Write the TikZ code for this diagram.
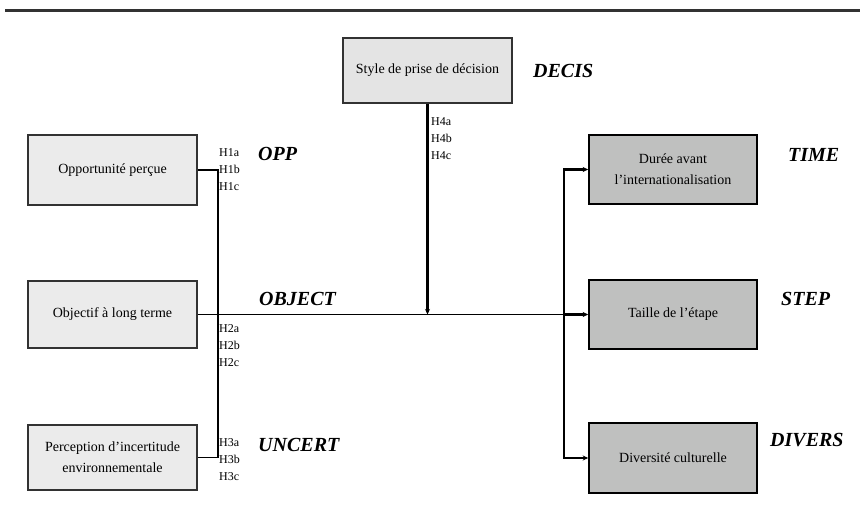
\documentclass[tikz,border=0pt]{standalone}
\usepackage{fontspec}
\setmainfont{Liberation Serif}
\usepackage{tikz}
\usetikzlibrary{arrows.meta}
\definecolor{lightbox}{RGB}{235,235,235}
\definecolor{topbox}{RGB}{228,228,228}
\definecolor{darkbox}{RGB}{191,192,191}
\definecolor{rim}{RGB}{50,50,50}
\tikzstyle{factor} = [draw=rim,line width=1.6pt,fill=lightbox,minimum width=169pt,align=center,inner sep=2pt,font=\fontsize{14}{21}\selectfont]
\tikzstyle{outcome} = [factor,draw=black,fill=darkbox,minimum width=168pt]
\tikzstyle{link} = [line width=1.4pt]
\tikzstyle{feed} = [line width=2.2pt,-{Stealth[length=5.5pt,width=5pt]}]
\tikzstyle{hyp} = [anchor=west,align=left,inner sep=0pt,font=\fontsize{12}{17}\selectfont]
\tikzstyle{tag} = [anchor=west,inner sep=0pt,font=\fontsize{20}{24}\selectfont\bfseries\itshape]

\begin{document}
\begin{tikzpicture}[x=1pt,y=1pt,yscale=-1,xscale=1]
\useasboundingbox (0,0) rectangle (860,521);

%Straight Lines (top rule)
\draw [color=rim,line width=3pt] (5,10.5) -- (860,10.5) ;

% Boxes
\node (decis) at (427.5,70.5) [factor,fill=topbox,minimum height=65pt] {Style de prise de décision};
\node (opp) at (112.5,170) [factor,minimum height=70pt] {Opportunité perçue};
\node (object) at (112.5,314.5) [factor,minimum height=67pt] {Objectif à long terme};
\node (uncert) at (112.5,457.5) [factor,minimum height=65pt] {Perception d’incertitude\\environnementale};
\node (time) at (673,169.5) [outcome,minimum height=69pt] {Durée avant\\l’internationalisation};
\node (step) at (673,314.5) [outcome,minimum height=69pt] {Taille de l’étape};
\node (divers) at (673,458) [outcome,minimum height=70pt] {Diversité culturelle};

%Straight Lines
\coordinate (hub) at (564,314.5);
\draw [link] (opp.east) -- ++(20,0) |- (uncert.east) ;
\draw [link] (object.east) -- (hub) ;
\draw [feed] (hub) -- (step.west) ;
\draw [feed] (hub) |- (time.west) ;
\draw [feed] (hub) |- (divers.west) ;
\draw [feed] (decis.south) -- (decis.south |- hub) ;

% Text Node
\node (h1) at (219,170) [hyp] {H1a\\H1b\\H1c};
\node (h2) at (219,346) [hyp] {H2a\\H2b\\H2c};
\node (h3) at (219,460) [hyp] {H3a\\H3b\\H3c};
\node (h4) at (431,139) [hyp] {H4a\\H4b\\H4c};
% Text Node
\node (tdecis) at (533,71) [tag] {DECIS};
\node (topp) at (258,154) [tag] {OPP};
\node (tobject) at (259,299) [tag] {OBJECT};
\node (tuncert) at (258,445) [tag] {UNCERT};
\node (ttime) at (788,155) [tag] {TIME};
\node (tstep) at (781,299) [tag] {STEP};
\node (tdivers) at (770,440) [tag] {DIVERS};

\end{tikzpicture}
\end{document}
